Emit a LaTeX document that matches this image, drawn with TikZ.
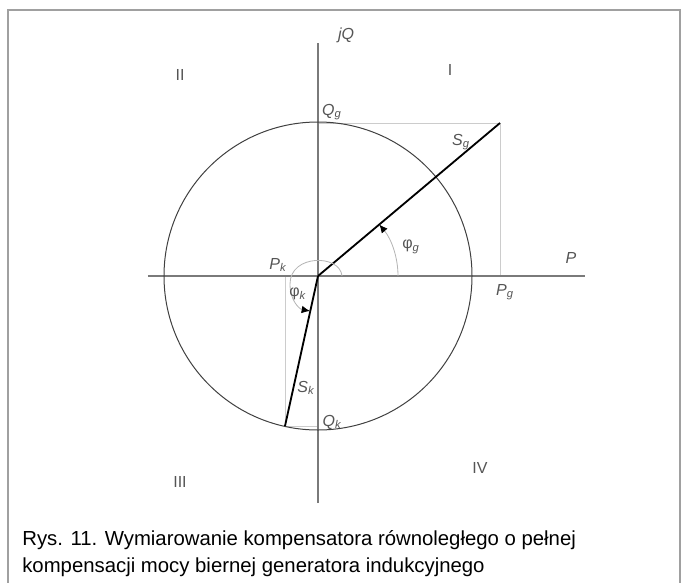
\documentclass[tikz,border=0pt]{standalone}
\usepackage{fontspec}
\setmainfont{Liberation Sans}
\usetikzlibrary{arrows.meta}
\definecolor{axisGray}{HTML}{7A7A7A}
\definecolor{labelGray}{HTML}{555555}
\definecolor{projGray}{HTML}{CCCCCC}
\definecolor{frameGray}{HTML}{A0A0A0}
\definecolor{arcGray}{HTML}{B5B5B5}
\begin{document}
\begin{tikzpicture}[
    x=0.6pt,y=0.6pt,
    >=Latex,
    every node/.style={font=\fontsize{9.6}{11}\selectfont,text=labelGray,inner sep=1pt},
    frame/.style={draw=frameGray,line width=1pt},
    axis/.style={draw=axisGray,line width=0.8pt},
    proj/.style={draw=projGray,line width=0.5pt},
    circ/.style={draw=black!75,line width=0.6pt},
    phasor/.style={black,line width=1.1pt},
    anglearc/.style={draw=arcGray,line width=0.5pt,-{Latex[color=black,length=5pt,width=4.5pt]}},
    caption/.style={anchor=base west,inner sep=0pt,text=black,font=\fontsize{12.2}{16}\selectfont}
  ]
  \useasboundingbox (-318,-306) rectangle (365,276);
  %% Frame
  \draw[frame] (-310,-320) |- (362,266) -- (362,-320);
  %% Points of the diagram
  \coordinate (O) at (0,0);
  \coordinate (Sg) at (182,153);
  \coordinate (Sk) at (-33,-150);
  \coordinate (Pl) at (-170,0);
  \coordinate (Pr) at (267,0);
  \coordinate (Qt) at (0,233);
  \coordinate (Qb) at (0,-227);
  %% Projections onto the axes
  \draw[proj] (O |- Sg) -- (Sg) -- (Sg |- O);
  \draw[proj] (Sk |- O) -- (Sk) -- (O |- Sk);
  %% Axes and circle
  \draw[axis] (Pl) -- (Pr);
  \draw[axis] (Qb) -- (Qt);
  \draw[circ] (O) circle (154);
  %% Powers
  \draw[phasor] (O) -- (Sg);
  \draw[phasor] (O) -- (Sk);
  %% Angles
  \draw[anglearc] (80,0) arc[start angle=0,end angle=40,radius=80];
  \draw[anglearc] (24,0) .. controls (22,22) and (-28,22) .. (-28,-8)
    .. controls (-28,-24) and (-19,-33) .. (-8,-35);
  %% Labels
  \node (jQ) at (28,241) {\textit{jQ}};
  \node (P) at (253,18) {\textit{P}};
  \foreach \name/\pos/\txt in {qI/{132,206}/I, qII/{-138,201}/II, qIII/{-138,-206}/III, qIV/{162,-192}/IV}
    \node (\name) at (\pos) {\txt};
  \node (Qg) at (14,164) {\textit{Q\textsubscript{g}}};
  \node (Sglbl) at (143,134) {\textit{S\textsubscript{g}}};
  \node (phig) at (93,29) {φ\textsubscript{\textit{g}}};
  \node (Pg) at (187,-16) {\textit{P\textsubscript{g}}};
  \node (Pk) at (-40,11) {\textit{P\textsubscript{k}}};
  \node (phik) at (-20,-18) {φ\textsubscript{\textit{k}}};
  \node (Sklbl) at (-12,-112) {\textit{S\textsubscript{k}}};
  \node (Qk) at (14,-146) {\textit{Q\textsubscript{k}}};
  %% Caption
  \node[caption] (cap1) at (-296,-269) {Rys. 11. Wymiarowanie kompensatora równoległego o pełnej};
  \node[caption] (cap2) at (-296,-296) {kompensacji mocy biernej generatora indukcyjnego};
\end{tikzpicture}
\end{document}
